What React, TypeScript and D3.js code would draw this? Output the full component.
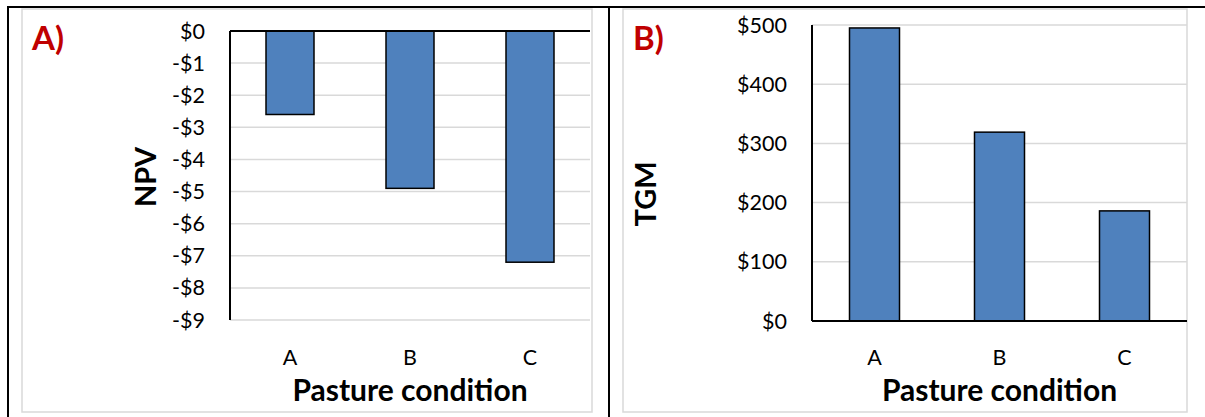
import React from "react";
import * as d3 from "d3";

const categories = ["A", "B", "C"];
const npvValues = [-2.6, -4.9, -7.2];
const tgmValues = [495, 319, 186];
const npvTicks = [0, -1, -2, -3, -4, -5, -6, -7, -8, -9];
const tgmTicks = [0, 100, 200, 300, 400, 500];

const FONT = "Lato, 'Open Sans', sans-serif";
const BAR = "#4f81bd";
const GRID = "#d9d9d9";
const RED = "#c00000";

const money = (v: number) => (v < 0 ? `-$${-v}` : `$${v}`);

type PanelProps = {
    label: string;
    yTitle: string;
    values: number[];
    ticks: number[];
    frame: [number, number];
    plotX: [number, number];
    yDomain: [number, number];
    yRange: [number, number];
    baseline: number; // value where the black category axis sits
    yTitlePos: [number, number];
};

const Panel: React.FC<PanelProps> = ({ label, yTitle, values, ticks, frame, plotX, yDomain, yRange, baseline, yTitlePos }) => {
    const x = d3.scaleBand<string>().domain(categories).range(plotX).paddingInner(0.6).paddingOuter(0.3);
    const y = d3.scaleLinear().domain(yDomain).range(yRange);
    const yLo = Math.max(...yRange);
    const yHi = Math.min(...yRange);
    const mid = (plotX[0] + plotX[1]) / 2;

    return (
        <g>
            {/* chart area border */}
            <rect x={frame[0]} y={9} width={frame[1] - frame[0]} height={403} fill="white" stroke={GRID} strokeWidth={1.5} />
            <text x={frame[0] + 10} y={50} fill={RED} fontSize={33} fontWeight="bold" fontFamily={FONT}>
                {label}
            </text>

            {/* gridlines */}
            {ticks
                .filter((t) => t !== baseline)
                .map((t) => (
                    <line key={t} x1={plotX[0]} x2={plotX[1]} y1={y(t)} y2={y(t)} stroke={GRID} strokeWidth={1.5} />
                ))}

            {/* tick labels */}
            {ticks.map((t) => (
                <text key={t} x={plotX[0] - 25} y={y(t)} dy="0.35em" textAnchor="end" fontSize={21.5} fontFamily={FONT} fill="#000">
                    {money(t)}
                </text>
            ))}

            {/* bars */}
            {values.map((v, i) => {
                const top = Math.min(y(v), y(baseline));
                const h = Math.abs(y(v) - y(baseline));
                return (
                    <rect key={categories[i]} x={x(categories[i])} y={top} width={x.bandwidth()} height={h} fill={BAR} stroke="#000" strokeWidth={1.5} />
                );
            })}

            {/* axes */}
            <line x1={plotX[0]} x2={plotX[0]} y1={yHi} y2={yLo} stroke="#000" strokeWidth={2} />
            <line x1={plotX[0]} x2={plotX[1]} y1={y(baseline)} y2={y(baseline)} stroke="#000" strokeWidth={2.2} />

            {/* category labels */}
            {categories.map((c) => (
                <text key={c} x={(x(c) ?? 0) + x.bandwidth() / 2} y={357} dy="0.35em" textAnchor="middle" fontSize={21.5} fontFamily={FONT} fill="#000">
                    {c}
                </text>
            ))}

            <text x={mid} y={390} dy="0.35em" textAnchor="middle" fontSize={30} fontWeight="bold" fontFamily={FONT} fill="#000">
                Pasture condition
            </text>
            <text
                transform={`translate(${yTitlePos[0]},${yTitlePos[1]}) rotate(-90)`}
                textAnchor="middle"
                dy="0.35em"
                fontSize={29}
                fontWeight="bold"
                fontFamily={FONT}
                fill="#000"
            >
                {yTitle}
            </text>
        </g>
    );
};

export default function App() {
    return (
        <svg width={1205} height={417} style={{ position: "absolute", left: 0, top: 0, background: "white" }}>
            <rect x={0} y={0} width={1205} height={417} fill="white" />
            <Panel
                label="A)"
                yTitle="NPV"
                values={npvValues}
                ticks={npvTicks}
                frame={[22, 592]}
                plotX={[230, 590]}
                yDomain={[-9, 0]}
                yRange={[320, 31]}
                baseline={0}
                yTitlePos={[146, 177]}
            />
            <Panel
                label="B)"
                yTitle="TGM"
                values={tgmValues}
                ticks={tgmTicks}
                frame={[623, 1187]}
                plotX={[812, 1187]}
                yDomain={[0, 500]}
                yRange={[321, 25]}
                baseline={0}
                yTitlePos={[646, 194]}
            />
            {/* table borders */}
            <line x1={7} x2={1205} y1={7} y2={7} stroke="#000" strokeWidth={2} />
            <line x1={8} x2={8} y1={6} y2={417} stroke="#000" strokeWidth={2} />
            <line x1={609} x2={609} y1={6} y2={417} stroke="#000" strokeWidth={2} />
        </svg>
    );
}
